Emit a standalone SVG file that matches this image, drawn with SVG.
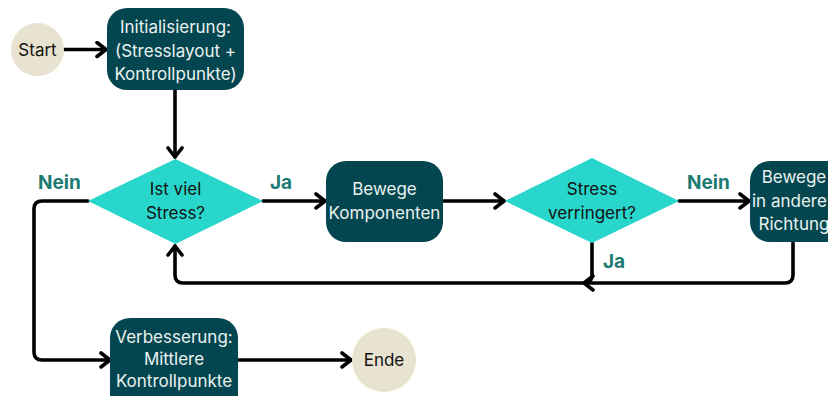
<svg xmlns="http://www.w3.org/2000/svg" width="828" height="396" viewBox="0 0 828 396">
<defs>
<marker id="arr" viewBox="0 0 14 18" markerWidth="14" markerHeight="18" refX="11.5" refY="9" orient="auto" markerUnits="userSpaceOnUse">
<path d="M2.5,2 L11.5,9 L2.5,16" fill="none" stroke="#000" stroke-width="3.6" stroke-linecap="round" stroke-linejoin="round"/>
</marker>
<style>
.c{fill:none;stroke:#000;stroke-width:3.6;stroke-linecap:round;stroke-linejoin:round}
.a{marker-end:url(#arr)}
.box{fill:#04464f}
.dia{fill:#29d6cb}
.term{fill:#e8e2d0}
.wt{font-family:Inter,"Noto Sans",sans-serif;font-size:17px;fill:#eaf2f0;text-anchor:middle}
.bt{font-family:Inter,"Noto Sans",sans-serif;font-size:17px;fill:#111;text-anchor:middle}
.lb{font-family:Inter,"Noto Sans",sans-serif;font-size:19px;font-weight:bold;fill:#1d7a72}
</style>
</defs>
<rect width="828" height="396" fill="#fff"/>
<g id="connectors">
<path class="c a" d="M64,49.5 H106"/>
<path class="c a" d="M175,90 V157"/>
<path class="c a" d="M263,201 H325"/>
<path class="c a" d="M443,201 H504"/>
<path class="c a" d="M679,201 H749"/>
<path class="c a" d="M793,243 V275 Q793,283 785,283 H584"/>
<path class="c a" d="M592,243 V275 Q592,283 584,283 H183 Q175,283 175,275 V246"/>
<path class="c a" d="M88,201 H42 Q34,201 34,209 V352 Q34,360 42,360 H110"/>
<path class="c a" d="M238,360 H351"/>
</g>
<g id="labels">
<text class="lb" x="38" y="189">Nein</text>
<text class="lb" x="270" y="189">Ja</text>
<text class="lb" x="687" y="189">Nein</text>
<text class="lb" x="603" y="268">Ja</text>
</g>
<g id="start">
<circle class="term" cx="37.5" cy="49.5" r="26.5"/>
<text class="bt" x="37.5" y="55.5">Start</text>
</g>
<g id="init">
<rect class="box" x="107" y="8" width="137" height="82" rx="20"/>
<text class="wt" x="175.5" y="33">Initialisierung:</text>
<text class="wt" x="175.5" y="57">(Stresslayout +</text>
<text class="wt" x="175.5" y="80">Kontrollpunkte)</text>
</g>
<g id="stress1">
<polygon class="dia" points="175.5,159 263,201 175.5,244 88,201"/>
<text class="bt" x="175.5" y="195">Ist viel</text>
<text class="bt" x="175.5" y="219">Stress?</text>
</g>
<g id="bewege">
<rect class="box" x="326" y="161" width="117" height="81" rx="20"/>
<text class="wt" x="384.5" y="195">Bewege</text>
<text class="wt" x="384.5" y="219">Komponenten</text>
</g>
<g id="stress2">
<polygon class="dia" points="592,158 679,201 592,243 505,201"/>
<text class="bt" x="592" y="195">Stress</text>
<text class="bt" x="592" y="219">verringert?</text>
</g>
<g id="richtung">
<rect class="box" x="750" y="161" width="100" height="81" rx="20"/>
<text class="wt" x="794" y="183">Bewege</text>
<text class="wt" x="752" y="207" style="text-anchor:start">in andere</text>
<text class="wt" x="794" y="230">Richtung</text>
</g>
<g id="verbesserung">
<rect class="box" x="110" y="318" width="128" height="100" rx="20"/>
<text class="wt" x="174" y="343">Verbesserung:</text>
<text class="wt" x="174" y="365">Mittlere</text>
<text class="wt" x="174" y="387">Kontrollpunkte</text>
</g>
<g id="ende">
<circle class="term" cx="384" cy="360" r="32"/>
<text class="bt" x="384" y="366">Ende</text>
</g>
</svg>
